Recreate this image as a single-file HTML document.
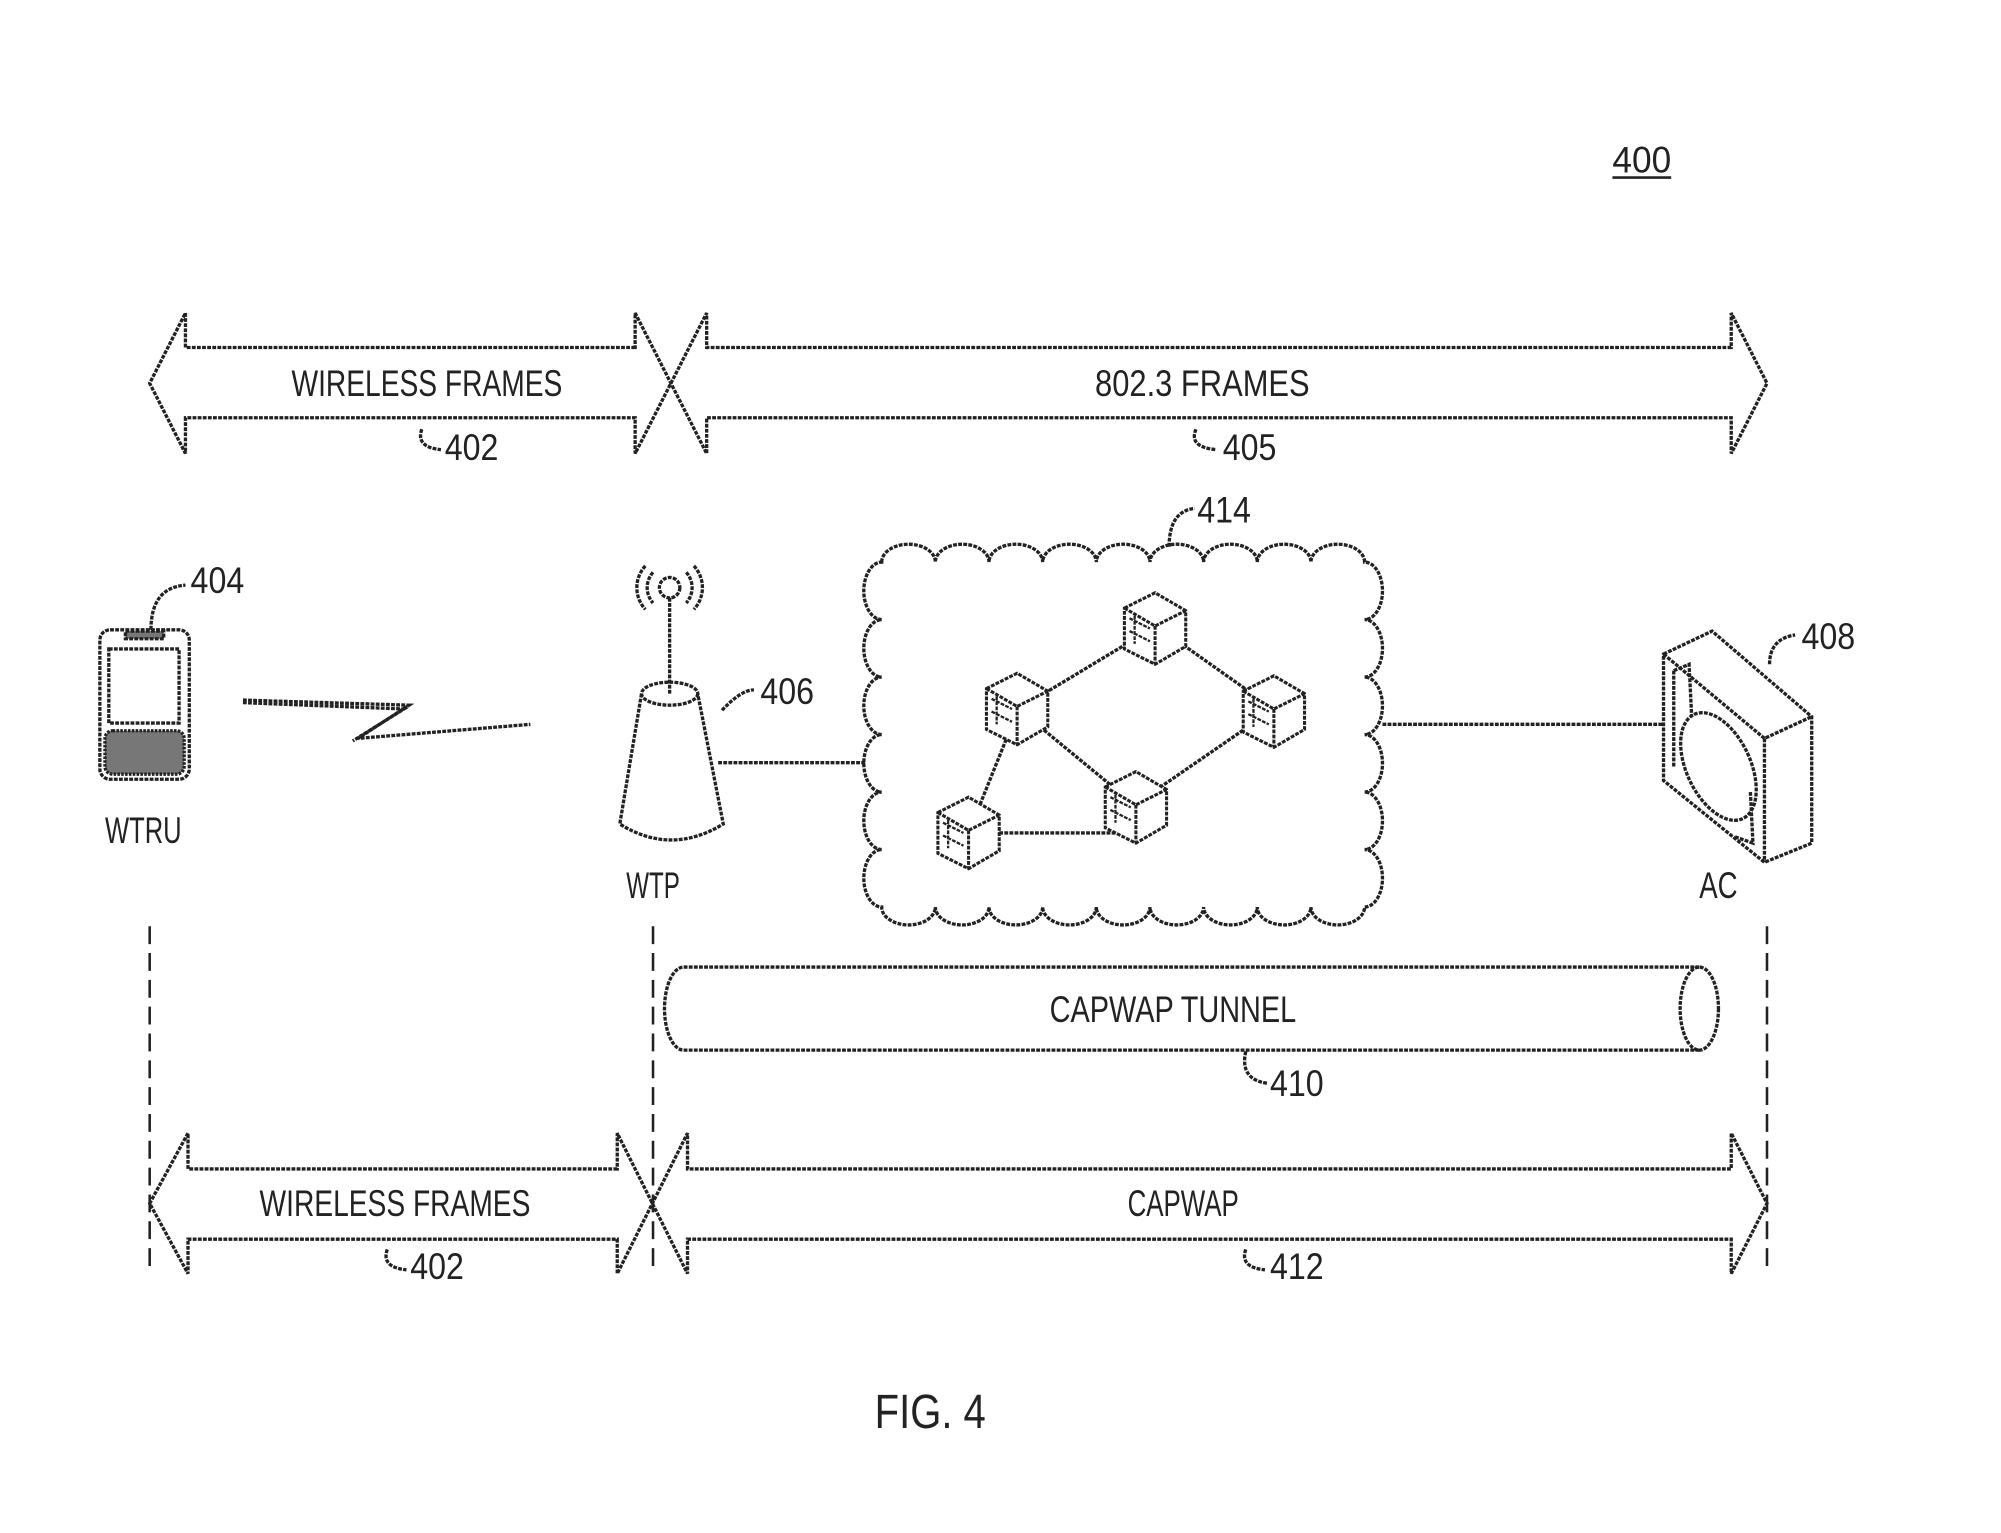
<!DOCTYPE html>
<html><head><meta charset="utf-8"><style>
html,body{margin:0;padding:0;background:#fff;}
svg{display:block;}
text{font-family:"Liberation Sans",sans-serif;fill:#222;}
</style></head><body>
<svg width="2001" height="1533" viewBox="0 0 1566 1200" xmlns="http://www.w3.org/2000/svg">
<defs>
<g id="c" fill="#fff" stroke="#222" stroke-width="2.4" stroke-dasharray="3 1"><path d="M0,-14 L24,-26 L48,-12 L48,16 L24,30 L0,18 Z"/><path d="M0,-14 L24,0 L48,-12 M24,0 V30"/><path d="M4,-6 L20,2 M4,4 L20,12 M8,-8 V14" stroke-width="1.8"/></g>
</defs>
<g fill="none" stroke="#222" stroke-width="2.6" stroke-dasharray="3 1">
<path d="M497,272 H145 V245 L117,300 L145,355 V327 H497 V355 L553,245 V272 H1355 V245 L1383,300 L1355,355 V327 H553 V355 L497,245 Z"/>
<path d="M483,915 H147 V887 L117,942 L147,997 V970 H483 V997 L538,887 V915 H1355 V887 L1383,942 L1355,997 V970 H538 V997 L483,887 Z"/>
<g stroke-dasharray="14 7" stroke-width="2">
<line x1="117" y1="725" x2="117" y2="997"/>
<line x1="511" y1="725" x2="511" y2="997"/>
<line x1="1383" y1="725" x2="1383" y2="997"/>
</g>
<path d="M330,336 Q325,350 345,352"/>
<path d="M936,336 Q930,350 952,352"/>
<path d="M303,978 Q298,992 318,994"/>
<path d="M975,978 Q970,992 990,994"/>
<path d="M975,823 Q970,845 992,848"/>
<path d="M118,493 Q118,460 145,458"/>
<path d="M565,556 Q580,540 590,540"/>
<path d="M915,428 Q915,400 935,398"/>
<path d="M1385,520 Q1385,500 1405,497"/>
<path d="M1330,757 H535 A15,32.5 0 0 0 535,822 H1330"/>
<ellipse cx="1330" cy="789.5" rx="15" ry="32.5"/>
<rect x="78" y="493" width="70" height="117" rx="8"/>
<rect x="85" y="508" width="55" height="58"/>
<rect x="82" y="572" width="62" height="34" rx="6" fill="#777" stroke-dasharray="2 1"/>
<rect x="98" y="494" width="30" height="6" fill="#777"/>
<path d="M190,548 L320,552 L280,578 L415,567 M190,550 L316,555 L276,580"/>
<circle cx="524" cy="460" r="8"/>
<path d="M511,448 A18,18 0 0 0 511,472 M537,448 A18,18 0 0 1 537,472 M505,443 A25,25 0 0 0 505,477 M543,443 A25,25 0 0 1 543,477"/>
<line x1="524" y1="468" x2="524" y2="543"/>
<ellipse cx="524" cy="543" rx="22" ry="9"/>
<path d="M502,543 L485,645 Q525,670 566,645 L546,543"/>
<line x1="562" y1="597" x2="677" y2="597"/>
<path d="M690,440 a21,14 0 0 1 42,0 a21,14 0 0 1 42,0 a21,14 0 0 1 42,0 a21,14 0 0 1 42,0 a21,14 0 0 1 42,0 a21,14 0 0 1 42,0 a21,14 0 0 1 42,0 a21,14 0 0 1 42,0 a21,14 0 0 1 42,0 a14,22.5 0 0 1 0,45 a14,22.5 0 0 1 0,45 a14,22.5 0 0 1 0,45 a14,22.5 0 0 1 0,45 a14,22.5 0 0 1 0,45 a14,22.5 0 0 1 0,45 a21,14 0 0 1 -42,0 a21,14 0 0 1 -42,0 a21,14 0 0 1 -42,0 a21,14 0 0 1 -42,0 a21,14 0 0 1 -42,0 a21,14 0 0 1 -42,0 a21,14 0 0 1 -42,0 a21,14 0 0 1 -42,0 a21,14 0 0 1 -42,0 a14,22.5 0 0 1 0,-45 a14,22.5 0 0 1 0,-45 a14,22.5 0 0 1 0,-45 a14,22.5 0 0 1 0,-45 a14,22.5 0 0 1 0,-45 a14,22.5 0 0 1 0,-45 Z"/>
<path d="M797,555 L905,490 L997,555 L888,630 L797,555 M758,652 L797,555 M758,652 L888,652"/>
<line x1="1082" y1="567" x2="1302" y2="567"/>
<path d="M1302,512 L1340,494 L1418,561 L1418,660 L1381,675 L1302,611 Z M1302,512 L1381,578 L1418,561 M1381,578 L1381,675"/>
<ellipse cx="1345" cy="600" rx="25" ry="45" transform="rotate(-25 1345 600)"/>
<path d="M1310,525 L1322,520 L1324,560 M1310,525 L1310,600 M1358,655 L1372,660 L1370,620"/>
</g>
<use href="#c" x="880" y="490"/>
<use href="#c" x="772" y="553"/>
<use href="#c" x="973" y="555"/>
<use href="#c" x="865" y="630"/>
<use href="#c" x="734" y="650"/>
<g font-size="29" text-anchor="middle">
<text x="334" y="310" textLength="212" lengthAdjust="spacingAndGlyphs">WIRELESS  FRAMES</text>
<text x="941" y="310" textLength="168" lengthAdjust="spacingAndGlyphs">802.3  FRAMES</text>
<text x="369" y="360" textLength="42" lengthAdjust="spacingAndGlyphs">402</text>
<text x="978" y="360" textLength="42" lengthAdjust="spacingAndGlyphs">405</text>
<text x="309" y="952" textLength="212" lengthAdjust="spacingAndGlyphs">WIRELESS  FRAMES</text>
<text x="926" y="952" textLength="87" lengthAdjust="spacingAndGlyphs">CAPWAP</text>
<text x="342" y="1001" textLength="42" lengthAdjust="spacingAndGlyphs">402</text>
<text x="1015" y="1001" textLength="42" lengthAdjust="spacingAndGlyphs">412</text>
<text x="918" y="800" textLength="193" lengthAdjust="spacingAndGlyphs">CAPWAP  TUNNEL</text>
<text x="1015" y="858" textLength="42" lengthAdjust="spacingAndGlyphs">410</text>
<text x="170" y="464" textLength="42" lengthAdjust="spacingAndGlyphs">404</text>
<text x="112" y="660" textLength="60" lengthAdjust="spacingAndGlyphs">WTRU</text>
<text x="616" y="551" textLength="42" lengthAdjust="spacingAndGlyphs">406</text>
<text x="511" y="703" textLength="42" lengthAdjust="spacingAndGlyphs">WTP</text>
<text x="958" y="409" textLength="42" lengthAdjust="spacingAndGlyphs">414</text>
<text x="1431" y="508" textLength="42" lengthAdjust="spacingAndGlyphs">408</text>
<text x="1345" y="703" textLength="30" lengthAdjust="spacingAndGlyphs">AC</text>
<text x="1285" y="135" textLength="46" lengthAdjust="spacingAndGlyphs">400</text>
<text x="728" y="1118" font-size="38" textLength="87" lengthAdjust="spacingAndGlyphs">FIG. 4</text>
</g>
<line x1="1262" y1="139" x2="1308" y2="139" stroke="#222" stroke-width="2"/>
</svg>
</body></html>
